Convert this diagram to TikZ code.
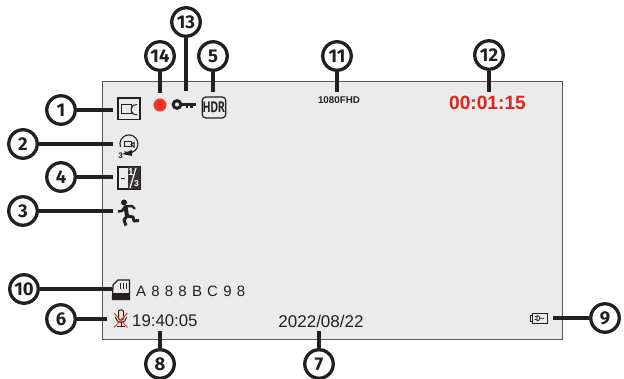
\documentclass[tikz,border=0pt]{standalone}
\usepackage{fontspec}
\setmainfont{Liberation Sans}
\newfontfamily\numfont{Fira Sans}
\newfontfamily\hdrfont[FakeStretch=0.78]{PT Sans}
\definecolor{scr}{HTML}{EBEBEB}
\definecolor{ink}{HTML}{231F20}
\definecolor{recred}{HTML}{EE3524}
\definecolor{timered}{HTML}{E2231A}
\begin{document}
\begin{tikzpicture}[x=1pt,y=-1pt,
  callout/.style={circle,draw=ink,line width=3.3pt,fill=white,minimum size=28.5pt,inner sep=0pt,font=\numfont\bfseries\fontsize{18.5}{18.5}\selectfont,text=ink},
  lead/.style={draw=ink,line width=3.3pt},
  icon/.style={draw=ink,line width=1pt},
  osd/.style={inner sep=0pt,text=ink}]
\useasboundingbox (0,0) rectangle (624,379);
\node[draw=black!65,line width=1pt,fill=scr,minimum width=460pt,minimum height=257.5pt,inner sep=0pt,anchor=north west] (screen) at (102,81.5) {};
% ends
\coordinate (e1) at (113,110); \coordinate (e2) at (113,144); \coordinate (e3) at (113,211);
\coordinate (e4) at (113,177); \coordinate (e5) at (213,92); \coordinate (e6) at (107,319);
\coordinate (e7) at (319,331); \coordinate (e8) at (160,331); \coordinate (e9) at (553,318);
\coordinate (e10) at (112,289); \coordinate (e11) at (337,92); \coordinate (e12) at (489,92);
\coordinate (e13) at (186,91); \coordinate (e14) at (160,93);
% callouts
\node[callout] (c1) at (61,110) {1};
\node[callout] (c2) at (23,144) {2};
\node[callout] (c3) at (23,211) {3};
\node[callout] (c4) at (61,177) {4};
\node[callout] (c5) at (213,56) {5};
\node[callout] (c6) at (61,319) {6};
\node[callout] (c7) at (319,364) {7};
\node[callout] (c8) at (160,364) {8};
\node[callout] (c9) at (605,318) {9};
\node[callout] (c10) at (24,289) {10};
\node[callout] (c11) at (337,56) {11};
\node[callout] (c12) at (489,55) {12};
\node[callout] (c13) at (186,22) {13};
\node[callout] (c14) at (160,56) {14};
\foreach \i in {1,...,14} {\draw[lead] (c\i) -- (e\i);}
% icon 1
\draw[icon,line width=1.3pt] (118,98) rectangle (140,119.5);
\draw[icon] (121,105) rectangle (131,114);
\draw[icon] (137,104.5) arc (80:280:5pt and 5.2pt);
% icon 2
\draw[icon,line width=1.1pt] (120.5,147) arc (200:-120:9pt);
\draw[icon] (124.5,142) rectangle (131,147);
\draw[icon] (131,144.5) -- (134,142.5) -- (134,147) -- cycle;
\fill[ink] (122,154) -- (132,150) -- (132,156) -- cycle;
\node[inner sep=0pt,font=\bfseries\fontsize{8}{8}\selectfont,text=ink] at (120.5,156) {3};
% icon 4
\draw[icon,line width=1.3pt,fill=scr] (118,167) rectangle (140,189);
\fill[ink!90] (128,167) rectangle (140,189);
\draw[ink,line width=0.9pt] (120.5,178) -- (125,178);
\node[inner sep=0pt,text=white,font=\bfseries\fontsize{10}{10}\selectfont] at (131,172.5) {1};
\draw[white,line width=1.2pt] (130,188) -- (136,168);
\node[inner sep=0pt,text=white,font=\bfseries\fontsize{8.5}{8}\selectfont] at (136.5,184) {3};
% icon 3 runner
\fill[ink] (124,202.5) circle (3pt);
\draw[ink,line width=4pt,line join=round] (125.5,206) -- (127,216);
\draw[ink,line width=2.4pt,line join=round] (118,211.5) -- (122,211) -- (125,206.5) -- (132,206) -- (135,209);
\draw[ink,line width=3pt,line join=round] (127,216) -- (124,220) -- (126,225.5);
\draw[ink,line width=3pt,line join=round] (127,216) -- (133,217) -- (134,221) -- (139,220.5);
% icon 10 SD card
\draw[icon,line width=1.3pt,fill=scr] (117,281) -- (113,285) -- (112.5,299.5) -- (129.5,299.5) -- (129.5,280) -- (118,280) -- cycle;
\fill[ink] (113,293) rectangle (129.5,299.5);
\foreach \x in {120,123,126} {\draw[ink,line width=0.9pt] (\x,283) -- (\x,289);}
\node[osd,anchor=west,font=\fontsize{15}{17}\selectfont] (sd) at (136,291.5) {A\hspace{5.2pt}8\hspace{5.2pt}8\hspace{5.2pt}8\hspace{5.2pt}B\hspace{5.2pt}C\hspace{5.2pt}9\hspace{5.2pt}8};
% icon 6 muted mic
\draw[icon,rounded corners=2pt] (118.5,310) rectangle (123.5,320);
\draw[icon] (115.5,317) arc (180:360:5.5pt);
\draw[icon] (121,322.5) -- (121,327);
\draw[icon] (117,327) -- (125,327);
\draw[recred,line width=1pt] (114,313) -- (127.5,327.5);
\draw[recred,line width=1pt] (127.5,313) -- (114,327.5);
\node[osd,anchor=west,font=\fontsize{16.8}{19}\selectfont] (time) at (132,321) {19:40:05};
\node[osd,font=\fontsize{17}{19}\selectfont] (date) at (321,321) {2022/08/22};
% icon 9 battery
\draw[icon,line width=0.8pt] (532,313.5) rectangle (547.5,323);
\draw[icon,line width=0.8pt] (532,315.5) -- (530,315.5) -- (530,321) -- (532,321);
\draw[icon,line width=0.8pt] (537,315.5) -- (537,321) (537,315.5) arc (90:-90:2.75pt) (540,318.2) -- (544,318.2) (534.5,316.8) -- (537,316.8) (534.5,319.6) -- (537,319.6);
% record and key
\fill[recred] (160,105) circle (6.5pt);
\draw[ink,line width=3pt] (177,104.5) circle (3.8pt);
\fill[ink] (181,102.8) rectangle (195.5,106.5);
\fill[ink] (186,103) rectangle (188.2,108.5);
\fill[ink] (190,103) rectangle (192.8,108);
% HDR
\node[draw=ink,line width=1.2pt,rounded corners=3.5pt,minimum width=23.5pt,minimum height=21pt,inner sep=0pt,font=\hdrfont\bfseries\fontsize{15}{15}\selectfont,text=ink,fill=scr] (hdr) at (214,107.5) {HDR};
% texts
\node[inner sep=0pt,text=ink,font=\bfseries\fontsize{9.8}{10}\selectfont] (fhd) at (339,100) {1080FHD};
\node[inner sep=0pt,text=timered,font=\bfseries\fontsize{19.2}{20}\selectfont] (rec) at (487.5,102.5) {00:01:15};
\end{tikzpicture}
\end{document}
